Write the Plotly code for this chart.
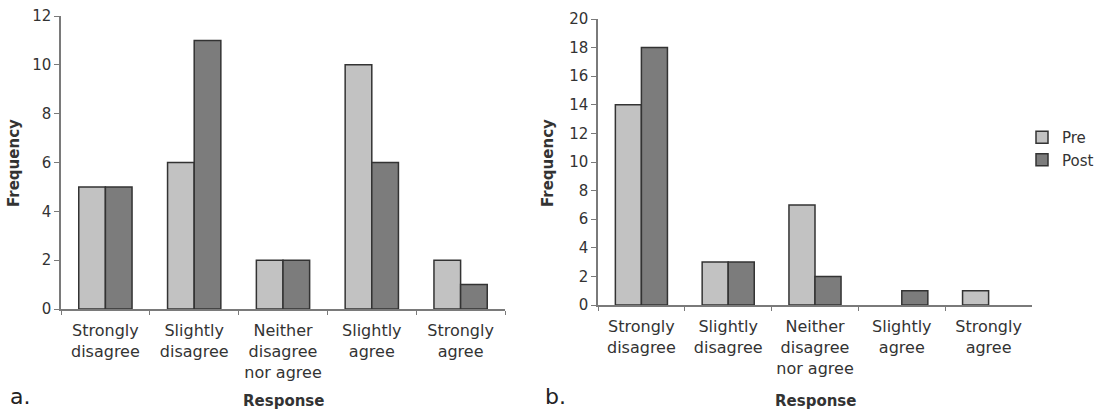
import plotly.graph_objects as go

categories = ["Strongly<br>disagree", "Slightly<br>disagree", "Neither<br>disagree<br>nor agree",
              "Slightly<br>agree", "Strongly<br>agree"]
pre_a = [5, 6, 2, 10, 2]
post_a = [5, 11, 2, 6, 1]
pre_b = [14, 3, 7, 0, 1]
post_b = [18, 3, 2, 1, 0]
yticks_a = [0, 2, 4, 6, 8, 10, 12]
yticks_b = [0, 2, 4, 6, 8, 10, 12, 14, 16, 18, 20]

PRE = "#c2c2c2"
POST = "#7c7c7c"
EDGE = "#333333"
FONT = "DejaVu Sans"
TXT = "#333333"


def bar(vals, name, color, xa, ya, legend):
    widths = [1.5 if v else 0 for v in vals]
    return go.Bar(x=categories, y=vals, name=name,
                  marker=dict(color=color, line=dict(color=EDGE, width=widths)),
                  xaxis=xa, yaxis=ya, showlegend=legend)


fig = go.Figure()
fig.add_trace(bar(pre_a, "Pre", PRE, "x", "y", True))
fig.add_trace(bar(post_a, "Post", POST, "x", "y", True))
fig.add_trace(bar(pre_b, "Pre", PRE, "x2", "y2", False))
fig.add_trace(bar(post_b, "Post", POST, "x2", "y2", False))

W, H = 1101, 413
def fx(p): return p / W
def fy(p): return 1 - p / H

xcommon = dict(type="category", range=[-0.5, 4.5], showline=True, linecolor="#7a7a7a", linewidth=1.5,
               ticks="outside", tickson="boundaries", ticklen=4, tickcolor="#7a7a7a", tickangle=0,
               tickfont=dict(family=FONT, size=16, color=TXT), showgrid=False, zeroline=False,
               ticklabelstandoff=6, fixedrange=True, automargin=False)
ycommon = dict(showline=True, linecolor="#7a7a7a", linewidth=1.5, ticks="outside", ticklen=5,
               tickcolor="#7a7a7a", tickfont=dict(family=FONT, size=15, color=TXT), showgrid=False,
               zeroline=False, fixedrange=True, automargin=False)

fig.update_layout(
    width=W, height=H,
    margin=dict(l=0, r=0, t=0, b=0, autoexpand=False),
    paper_bgcolor="white", plot_bgcolor="white",
    barmode="group", bargap=0.4, bargroupgap=0,
    font=dict(family=FONT, color=TXT),
    xaxis=dict(**xcommon, domain=[fx(61), fx(505)], anchor="y"),
    yaxis=dict(**ycommon, domain=[fy(309), fy(16)], range=[0, 12], tickvals=yticks_a, anchor="x"),
    xaxis2=dict(**xcommon, domain=[fx(598), fx(1032)], anchor="y2"),
    yaxis2=dict(**ycommon, domain=[fy(305), fy(19)], range=[0, 20], tickvals=yticks_b, anchor="x2"),
    legend=dict(x=fx(1022), y=fy(121), xanchor="left", yanchor="top", font=dict(family=FONT, size=15, color=TXT),
                bgcolor="rgba(0,0,0,0)", tracegroupgap=2, itemwidth=30),
)

annos = [
    dict(text="<b>Frequency</b>", x=fx(14), y=fy(163), textangle=-90, font=dict(size=15)),
    dict(text="<b>Frequency</b>", x=fx(548), y=fy(163), textangle=-90, font=dict(size=15)),
    dict(text="<b>Response</b>", x=fx(283), y=fy(401), font=dict(size=15)),
    dict(text="<b>Response</b>", x=fx(815), y=fy(401), font=dict(size=15)),
    dict(text="a.", x=fx(20), y=fy(396), font=dict(size=22, color="#222")),
    dict(text="b.", x=fx(555), y=fy(396), font=dict(size=22, color="#222")),
]
for a in annos:
    f = dict(family=FONT, color=TXT)
    f.update(a.pop("font"))
    fig.add_annotation(**a, xref="paper", yref="paper", showarrow=False, font=f, xanchor="center", yanchor="middle")

fig.write_html("out.html", config={"displayModeBar": False},
               post_script="document.body.style.margin='0px';document.body.style.overflow='hidden';")
